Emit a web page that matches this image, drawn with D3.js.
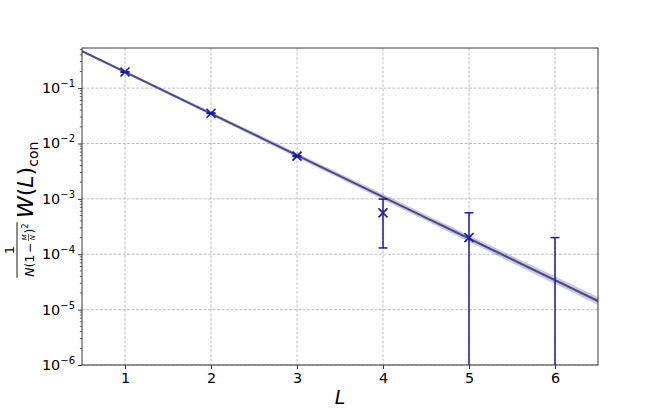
<!DOCTYPE html>
<html><head><meta charset="utf-8">
<script src="https://cdn.jsdelivr.net/npm/d3@7"></script>
<style>body{margin:0;background:#fff}svg{display:block;font-family:"DejaVu Sans",sans-serif}</style>
</head><body>
<script>
// ---- data ----
const Ls = [1, 2, 3, 4, 5, 6];
const values = [0.195, 0.0352, 0.0059, 5.6e-4, 2.0e-4, 0];
const errors = [0.002, 0.0004, 0.0001, 4.3e-4, 3.6e-4, 2.0e-4];
const xTicks = [1, 2, 3, 4, 5, 6];
const yTicks = [1e-6, 1e-5, 1e-4, 1e-3, 1e-2, 1e-1];
const yTickExps = ["−6", "−5", "−4", "−3", "−2", "−1"];
// fit: log10(W) = a + b*L ; band bounds
const fitParams = [0.044, -0.752];
const fitUpper = [0.0597, -0.7433];
const fitLower = [0.0283, -0.7607];
const xDomain = [0.5, 6.5];
const yDomain = [1e-6, 0.53];

const W = 664, H = 411;
const m = {l: 82, r: 598, t: 48, b: 365};
const svg = d3.select("body").append("svg").attr("width", W).attr("height", H);
const x = d3.scaleLinear().domain(xDomain).range([m.l, m.r]);
const y = d3.scaleLog().domain(yDomain).range([m.b, m.t]);

svg.append("clipPath").attr("id", "c").append("rect")
  .attr("x", m.l).attr("y", m.t).attr("width", m.r - m.l).attr("height", m.b - m.t);

// grid
const grid = svg.append("g").attr("stroke", "#b0b0b0").attr("stroke-width", 0.8)
  .attr("stroke-dasharray", "3,1.5");
xTicks.forEach(t => grid.append("line").attr("x1", x(t)).attr("x2", x(t)).attr("y1", m.t).attr("y2", m.b));
yTicks.forEach(t => grid.append("line").attr("x1", m.l).attr("x2", m.r).attr("y1", y(t)).attr("y2", y(t)));

const plot = svg.append("g").attr("clip-path", "url(#c)");

// fit band and line
const Lgrid = d3.range(0, 41).map(i => xDomain[0] + i * (xDomain[1] - xDomain[0]) / 40);
const f = (p, L) => Math.pow(10, p[0] + p[1] * L);
plot.append("path")
  .datum(Lgrid)
  .attr("d", d3.area().x(L => x(L)).y0(L => y(f(fitLower, L))).y1(L => y(f(fitUpper, L))))
  .attr("fill", "#4b4b8f").attr("fill-opacity", 0.3);
plot.append("path")
  .datum(Lgrid)
  .attr("d", d3.line().x(L => x(L)).y(L => y(f(fitParams, L))))
  .attr("fill", "none").attr("stroke", "#4a4a8c").attr("stroke-width", 2);

// error bars
const col = "#1a1aa8";
const yc = v => v <= yDomain[0] ? m.b + 5 : y(v);
Ls.forEach((L, i) => {
  const lo = values[i] - errors[i], hi = values[i] + errors[i];
  const cx = x(L);
  plot.append("line").attr("x1", cx).attr("x2", cx).attr("y1", yc(lo)).attr("y2", y(hi))
    .attr("stroke", col).attr("stroke-width", 1.5);
  plot.append("line").attr("x1", cx - 4.5).attr("x2", cx + 4.5).attr("y1", y(hi)).attr("y2", y(hi))
    .attr("stroke", col).attr("stroke-width", 1.5);
  if (lo > yDomain[0])
    plot.append("line").attr("x1", cx - 4.5).attr("x2", cx + 4.5).attr("y1", y(lo)).attr("y2", y(lo))
      .attr("stroke", col).attr("stroke-width", 1.5);
  if (values[i] > 0) {
    const cy = y(values[i]), s = 4.5;
    plot.append("path").attr("d", `M${cx - s},${cy - s}L${cx + s},${cy + s}M${cx - s},${cy + s}L${cx + s},${cy - s}`)
      .attr("stroke", col).attr("stroke-width", 1.6).attr("fill", "none");
  }
});

// frame
svg.append("rect").attr("x", m.l).attr("y", m.t).attr("width", m.r - m.l).attr("height", m.b - m.t)
  .attr("fill", "none").attr("stroke", "#222").attr("stroke-width", 0.9);

// x axis
const xa = svg.append("g").attr("transform", `translate(0,${m.b})`)
  .call(d3.axisBottom(x).tickValues(xTicks).tickFormat(d3.format("d")).tickSize(4).tickPadding(4));
xa.select(".domain").remove();
xa.selectAll("line").attr("stroke", "#222").attr("stroke-width", 0.9);
xa.selectAll("text").attr("font-size", 14.4).attr("fill", "#000").attr("font-family", "DejaVu Sans");

// y axis major
const ya = svg.append("g").attr("transform", `translate(${m.l},0)`)
  .call(d3.axisLeft(y).tickValues(yTicks).tickFormat("").tickSize(4));
ya.select(".domain").remove();
ya.selectAll("line").attr("stroke", "#222").attr("stroke-width", 0.9);
const minor = [];
for (let e = -6; e <= 0; e++) for (let k = 2; k <= 9; k++) {
  const v = k * Math.pow(10, e);
  if (v >= yDomain[0] && v <= yDomain[1]) minor.push(v);
}
svg.append("g").selectAll("line").data(minor).join("line")
  .attr("x1", m.l - 2.2).attr("x2", m.l).attr("y1", d => y(d)).attr("y2", d => y(d))
  .attr("stroke", "#222").attr("stroke-width", 0.7);
yTicks.forEach((t, i) => {
  const tx = svg.append("text").attr("x", m.l - 7).attr("y", y(t) + 5).attr("text-anchor", "end")
    .attr("font-size", 14.4).attr("fill", "#000");
  tx.append("tspan").text("10");
  tx.append("tspan").attr("dy", -6).attr("font-size", 10).text(yTickExps[i]);
});

// x label
svg.append("text").attr("x", (m.l + m.r) / 2).attr("y", 404).attr("text-anchor", "middle")
  .attr("font-size", 19).attr("font-style", "italic").text("L");

// y label (rotated). local (lx, ly) -> screen (ly, -lx)
const yl = svg.append("g").attr("transform", "rotate(-90)");
const wl = yl.append("text").attr("x", -218).attr("y", 33).attr("font-size", 22);
wl.append("tspan").attr("font-style", "italic").text("W");
wl.append("tspan").text("(");
wl.append("tspan").attr("font-style", "italic").text("L");
wl.append("tspan").text(")");
wl.append("tspan").attr("font-size", 14).attr("dy", 5).text("con");

// denominator built piecewise, then centred
const dg = yl.append("g");
let cur = 0;
const base = 34;
const p1 = dg.append("text").attr("x", 0).attr("y", base).attr("font-size", 12.5);
p1.append("tspan").attr("font-style", "italic").text("N");
p1.append("tspan").text("(1");
cur += p1.node().getComputedTextLength() + 1.5;
const p2 = dg.append("text").attr("x", cur).attr("y", base).attr("font-size", 12.5).text("−");
cur += p2.node().getComputedTextLength() + 1.5;
const fm = dg.append("text").attr("y", base - 7.5).attr("font-size", 7).attr("font-style", "italic").attr("text-anchor", "middle").text("M");
const fn = dg.append("text").attr("y", base + 0.5).attr("font-size", 7).attr("font-style", "italic").attr("text-anchor", "middle").text("N");
const fw = Math.max(fm.node().getComputedTextLength(), fn.node().getComputedTextLength()) + 1;
fm.attr("x", cur + fw / 2); fn.attr("x", cur + fw / 2);
dg.append("line").attr("x1", cur).attr("x2", cur + fw).attr("y1", base - 5.5).attr("y2", base - 5.5)
  .attr("stroke", "#000").attr("stroke-width", 0.6);
cur += fw + 0.5;
const p3 = dg.append("text").attr("x", cur).attr("y", base).attr("font-size", 12.5).text(")");
cur += p3.node().getComputedTextLength();
const p4 = dg.append("text").attr("x", cur).attr("y", base - 6).attr("font-size", 8.5).text("2");
cur += p4.node().getComputedTextLength();
const denW = cur, cen = -250;
dg.attr("transform", `translate(${cen - denW / 2},0)`);
yl.append("line").attr("x1", cen - denW / 2 - 1).attr("x2", cen + denW / 2 + 1).attr("y1", 17).attr("y2", 17)
  .attr("stroke", "#000").attr("stroke-width", 0.9);
yl.append("text").attr("x", cen).attr("y", 13.5).attr("text-anchor", "middle").attr("font-size", 13).text("1");
</script>
</body></html>
